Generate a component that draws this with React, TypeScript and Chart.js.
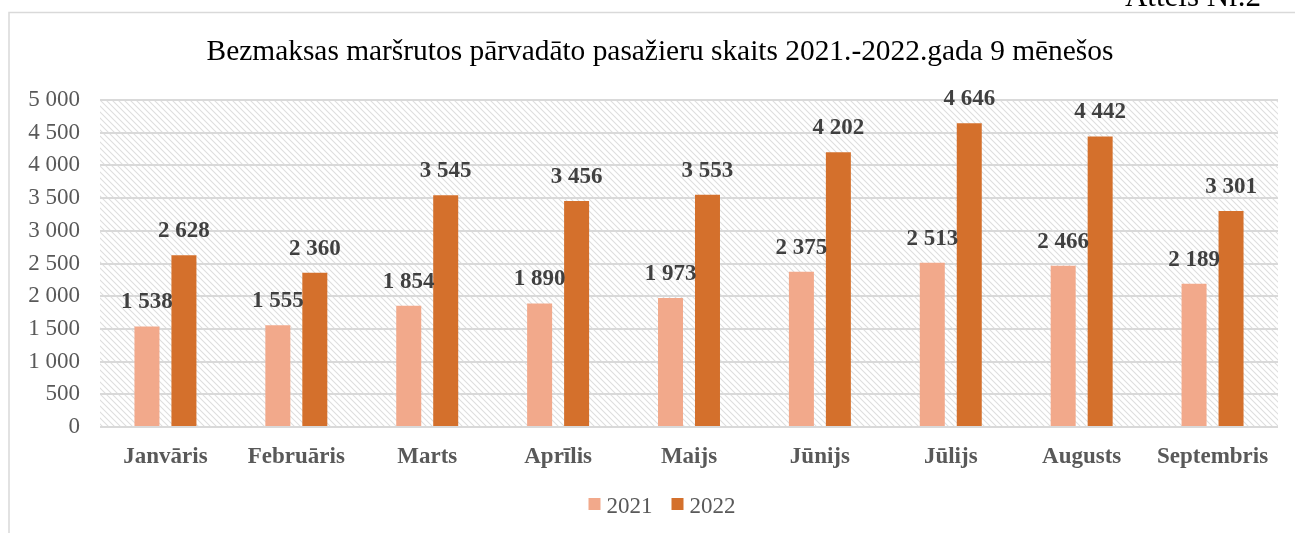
import React, { useEffect, useRef } from "react";
import { Chart, registerables } from "chart.js";

Chart.register(...registerables);

const categories = ["Janvāris", "Februāris", "Marts", "Aprīlis", "Maijs", "Jūnijs", "Jūlijs", "Augusts", "Septembris"];
const values2021 = [1538, 1555, 1854, 1890, 1973, 2375, 2513, 2466, 2189];
const values2022 = [2628, 2360, 3545, 3456, 3553, 4202, 4646, 4442, 3301];
const seriesLabels = ["2021", "2022"];
const seriesColors = ["#F2A98B", "#D4702C"];
const titleText = "Bezmaksas maršrutos pārvadāto pasažieru skaits 2021.-2022.gada 9 mēnešos";
const captionText = "Attēls Nr.2";

const FONT = "'Liberation Serif', 'Times New Roman', serif";
const CENTER_X = 660;

Chart.defaults.font.family = FONT;

function fmt(v: number): string {
  return String(Math.round(v)).replace(/\B(?=(\d{3})+(?!\d))/g, " ");
}

function makeHatch(): CanvasPattern | string {
  const tile = document.createElement("canvas");
  tile.width = 6;
  tile.height = 6;
  const c = tile.getContext("2d");
  if (!c) return "#ffffff";
  c.fillStyle = "#ffffff";
  c.fillRect(0, 0, 6, 6);
  c.strokeStyle = "#dedede";
  c.lineWidth = 1.1;
  c.beginPath();
  c.moveTo(-1, -1);
  c.lineTo(7, 7);
  c.moveTo(-1, 5);
  c.lineTo(1, 7);
  c.moveTo(5, -1);
  c.lineTo(7, 1);
  c.stroke();
  const p = c.createPattern(tile, "repeat");
  return p || "#ffffff";
}

export default function App() {
  const ref = useRef<HTMLCanvasElement | null>(null);

  useEffect(() => {
    const canvas = ref.current;
    if (!canvas) return;
    const hatch = makeHatch();

    const bgPlugin = {
      id: "bgPlugin",
      beforeDraw(chart: any) {
        const { ctx, chartArea } = chart;
        ctx.save();
        ctx.fillStyle = "#ffffff";
        ctx.fillRect(0, 0, chart.width, chart.height);
        // frame
        ctx.strokeStyle = "#d9d9d9";
        ctx.lineWidth = 1.5;
        ctx.beginPath();
        ctx.moveTo(9, 533);
        ctx.lineTo(9, 12.5);
        ctx.lineTo(1295, 12.5);
        ctx.stroke();
        // caption
        ctx.fillStyle = "#000000";
        ctx.font = `31px ${FONT}`;
        ctx.textAlign = "right";
        ctx.textBaseline = "alphabetic";
        ctx.fillText(captionText, 1261, 6);
        // title
        ctx.font = `29.4px ${FONT}`;
        ctx.textAlign = "center";
        ctx.textBaseline = "middle";
        ctx.fillText(titleText, CENTER_X, 52);
        // hatch background
        ctx.fillStyle = hatch;
        ctx.fillRect(chartArea.left, chartArea.top, chartArea.right - chartArea.left, chartArea.bottom - chartArea.top);
        ctx.restore();
      },
    };

    const labelPlugin = {
      id: "labelPlugin",
      afterDatasetsDraw(chart: any) {
        const { ctx } = chart;
        ctx.save();
        ctx.font = `bold 23px ${FONT}`;
        ctx.fillStyle = "#404040";
        ctx.textAlign = "center";
        ctx.textBaseline = "alphabetic";
        chart.data.datasets.forEach((ds: any, di: number) => {
          const meta = chart.getDatasetMeta(di);
          meta.data.forEach((bar: any, i: number) => {
            ctx.fillText(fmt(ds.data[i]), bar.x, bar.y - 18);
          });
        });
        ctx.restore();
      },
    };

    const legendPlugin = {
      id: "manualLegend",
      afterDraw(chart: any) {
        const { ctx } = chart;
        ctx.save();
        ctx.font = `23px ${FONT}`;
        ctx.textBaseline = "alphabetic";
        ctx.textAlign = "left";
        const box = 12;
        const gap = 6;
        const spacing = 19;
        const ds = chart.data.datasets;
        const widths = ds.map((d: any) => ctx.measureText(d.label).width);
        let total = 0;
        widths.forEach((w: number, i: number) => {
          total += box + gap + w + (i < widths.length - 1 ? spacing : 0);
        });
        let x = CENTER_X + 2 - total / 2;
        const baseline = 513;
        ds.forEach((d: any, i: number) => {
          ctx.fillStyle = d.backgroundColor;
          ctx.fillRect(x, 498, box, box);
          ctx.fillStyle = "#595959";
          ctx.fillText(d.label, x + box + gap, baseline);
          x += box + gap + widths[i] + spacing;
        });
        ctx.restore();
      },
    };

    const chart = new Chart(canvas, {
      type: "bar",
      data: {
        labels: categories,
        datasets: [
          {
            label: seriesLabels[0],
            data: values2021,
            backgroundColor: seriesColors[0],
            categoryPercentage: 0.565,
            barPercentage: 0.676,
          },
          {
            label: seriesLabels[1],
            data: values2022,
            backgroundColor: seriesColors[1],
            categoryPercentage: 0.565,
            barPercentage: 0.676,
          },
        ],
      },
      options: {
        animation: false,
        responsive: false,
        font: { family: FONT },
        layout: { padding: { left: 0, right: 17, top: 100, bottom: 50.5 } },
        plugins: {
          title: { display: false },
          legend: { display: false },
          tooltip: { enabled: false },
        },
        scales: {
          x: {
            grid: { display: false, drawTicks: false },
            border: { display: false },
            ticks: {
              color: "#595959",
              font: { family: FONT, size: 23, weight: "bold" },
              padding: 16,
              maxRotation: 0,
              autoSkip: false,
            },
            afterFit(axis: any) {
              axis.height = 55.5;
            },
          },
          y: {
            min: 0,
            max: 5000,
            grid: { color: "#d9d9d9", lineWidth: 2, drawTicks: false },
            border: { display: false },
            ticks: {
              stepSize: 500,
              color: "#595959",
              font: { family: FONT, size: 23 },
              padding: 20,
              callback: (v: any) => fmt(Number(v)),
            },
            afterFit(axis: any) {
              axis.width = 100;
            },
          },
        },
      },
      plugins: [bgPlugin, labelPlugin, legendPlugin],
    });

    return () => {
      chart.destroy();
    };
  }, []);

  return (
    <div style={{ position: "absolute", left: 0, top: 0, width: 1295, height: 533 }}>
      <canvas ref={ref} width={1295} height={533} style={{ width: 1295, height: 533, display: "block" }} />
    </div>
  );
}
